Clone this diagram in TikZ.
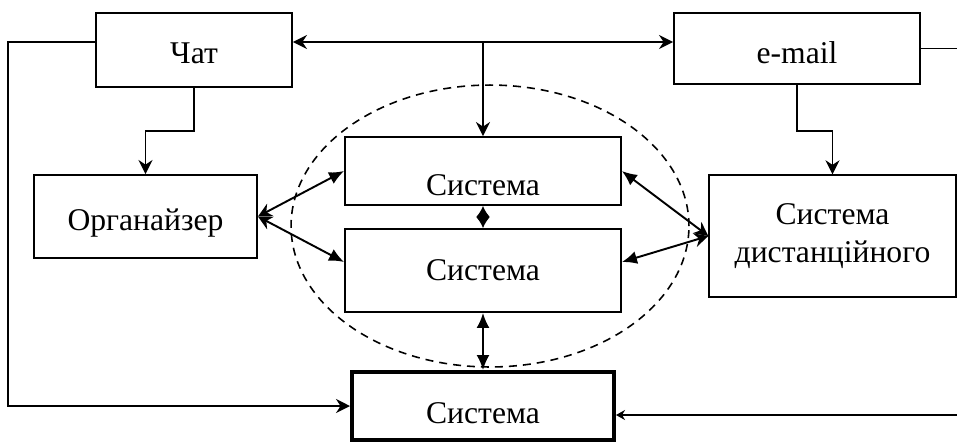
\documentclass[tikz,border=0pt]{standalone}
\usepackage{fontspec}
\setmainfont{Liberation Serif}
\usetikzlibrary{arrows.meta}

\tikzset{
  box/.style={draw, line width=1.1pt, inner sep=0pt, align=center, text depth=0pt, font=\fontsize{18}{22}\selectfont},
  link/.style={line width=1.1pt},
  >={Stealth[length=0.28cm,width=0.28cm]},
  tri/.tip={Latex[length=0.3cm,width=0.26cm]},
  mini/.tip={Latex[length=0.22cm,width=0.28cm]},
  small/.tip={Stealth[length=0.18cm,width=0.2cm]}
}

\begin{document}
\begin{tikzpicture}[x=0.02cm,y=-0.02cm]
\useasboundingbox (0,0) rectangle (957,441);

\node[box, minimum width=3.92cm, minimum height=1.48cm, text height=0.52cm] (chat) at (194,50) {Чат};
\node[box, minimum width=4.92cm, minimum height=1.42cm, text height=0.58cm] (email) at (797,48.5) {e-mail};
\node[box, minimum width=4.46cm, minimum height=1.66cm, text height=0.54cm] (org) at (145.5,216.5) {Органайзер};
\node[box, minimum width=5.52cm, minimum height=1.36cm, text height=0.96cm] (sysa) at (483,171) {Система};
\node[box, minimum width=5.52cm, minimum height=1.66cm, text height=0.38cm] (sysb) at (483,270.5) {Система};
\node[box, line width=0.8pt, minimum width=4.94cm, minimum height=2.44cm, text depth=, text height=] (dist) at (832.5,236) {Система\\дистанційного};
\node[box, line width=2.3pt, minimum width=5.24cm, minimum height=1.36cm, text height=0.68cm] (sysc) at (483,406) {Система};

\draw[dashed, line width=0.9pt, dash pattern=on 0.16cm off 0.12cm] (490,226) ellipse [x radius=3.98cm, y radius=2.82cm];

\coordinate (hub) at (483,42);
\coordinate (eout) at (957,48.5);
\coordinate (rin) at (957,415);

\draw[link,<->] (chat.east |- hub) -- (email.west |- hub);
\draw[link,->] (hub) -- (sysa.north);
\draw[link,->] (chat.west |- hub) -- ++(-87,0) |- (sysc.west);
\draw[link,->] (chat.south) -- ++(0,43) -| (org.north);
\draw[link,->] (email.south) -- ++(0,46) -| (dist.north);
\draw[link] (email.east) -- (eout);
\draw[link,-small] (rin) -- (sysc.east |- rin);

\draw[link,<-tri] (org.east) -- (sysa.west);
\draw[link,<-tri] (org.east) -- ([yshift=0.17cm]sysb.west);
\draw[link,<-tri] (dist.west) -- (sysa.east);
\draw[link,<-tri] (dist.west) -- ([yshift=0.17cm]sysb.east);
\draw[link,mini-mini] (sysa.south) -- (sysb.north);
\draw[link,tri-tri] (sysb.south) -- (sysc.north);
\end{tikzpicture}
\end{document}
